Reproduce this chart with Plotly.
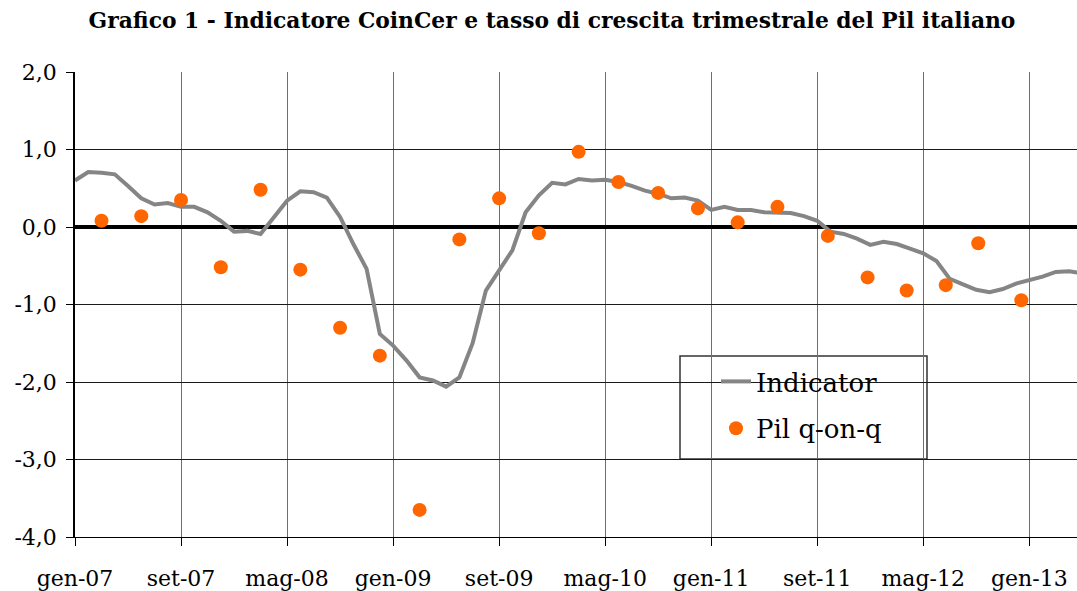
import plotly.graph_objects as go

# Monthly indicator (index 0 = gen-07)
indicator = [0.60, 0.71, 0.70, 0.68, 0.53, 0.37, 0.29, 0.31, 0.26, 0.26,
             0.19, 0.08, -0.06, -0.05, -0.09, 0.13, 0.34, 0.46, 0.45, 0.38,
             0.13, -0.22, -0.54, -1.38, -1.53, -1.72, -1.94, -1.98, -2.06, -1.94,
             -1.50, -0.82, -0.56, -0.30, 0.19, 0.41, 0.57, 0.55, 0.62, 0.60,
             0.61, 0.58, 0.53, 0.47, 0.43, 0.37, 0.38, 0.34, 0.22, 0.26,
             0.22, 0.22, 0.19, 0.19, 0.18, 0.14, 0.08, -0.06, -0.09, -0.15,
             -0.23, -0.19, -0.22, -0.28, -0.34, -0.44, -0.67, -0.74, -0.81, -0.84,
             -0.80, -0.73, -0.69, -0.64, -0.58, -0.57, -0.60]
months = list(range(len(indicator)))

# Quarterly GDP q-on-q (month index positions)
pil_x = [2, 5, 8, 11, 14, 17, 20, 23, 26, 29, 32, 35, 38, 41, 44, 47, 50, 53,
         56.8, 59.8, 62.75, 65.7, 68.15, 71.4]
pil_y = [0.08, 0.14, 0.35, -0.52, 0.48, -0.55, -1.30, -1.66, -3.65, -0.16,
         0.37, -0.08, 0.97, 0.58, 0.44, 0.24, 0.06, 0.26,
         -0.115, -0.65, -0.82, -0.75, -0.21, -0.945]

tick_vals = [0, 8, 16, 24, 32, 40, 48, 56, 64, 72]
tick_text = ["gen-07", "set-07", "mag-08", "gen-09", "set-09",
             "mag-10", "gen-11", "set-11", "mag-12", "gen-13"]
y_ticks = [2, 1, 0, -1, -2, -3, -4]
y_text = ["2,0", "1,0", "0,0", "-1,0", "-2,0", "-3,0", "-4,0"]

FONT = "DejaVu Serif"

W, H = 1077, 591
PL, PT, PB = 75, 72, 54
PW, PH = W - PL, H - PT - PB

fig = go.Figure()
fig.add_trace(go.Scatter(x=months, y=indicator, mode="lines", name="Indicator",
                         line=dict(color="#858585", width=4), legendgroup="a"))
fig.add_trace(go.Scatter(x=pil_x, y=pil_y, mode="markers", name="Pil q-on-q",
                         marker=dict(color="#FF6600", size=14, line=dict(width=0)),
                         legendgroup="b"))

fig.update_layout(
    width=W, height=H,
    margin=dict(l=PL, r=0, t=PT, b=PB, autoexpand=False),
    paper_bgcolor="white", plot_bgcolor="white",
    font=dict(family=FONT, color="black", size=22),
    title=dict(text="<b>Grafico 1 - Indicatore CoinCer e tasso di crescita trimestrale del Pil italiano</b>",
               x=552 / W, xanchor="center", y=1 - 20 / H, yanchor="middle",
               font=dict(family=FONT, size=21.8, color="black")),
    showlegend=True,
    legend=dict(x=(716 - PL) / PW, xanchor="left", y=1 - (358 - PT) / PH, yanchor="top",
                bgcolor="rgba(255,255,255,0)", borderwidth=0,
                font=dict(family=FONT, size=26, color="black"),
                traceorder="grouped", tracegroupgap=10),
    shapes=[dict(type="rect", xref="paper", yref="paper",
                 x0=(680 - PL) / PW, x1=(927 - PL) / PW,
                 y0=1 - (459 - PT) / PH, y1=1 - (356 - PT) / PH,
                 line=dict(color="#333333", width=1.5), fillcolor="white", layer="below")],
)

fig.update_xaxes(range=[0, 75.6], tickmode="array", tickvals=tick_vals, ticktext=tick_text,
                 showgrid=True, gridcolor="#6e6e6e", gridwidth=1,
                 ticks="outside", ticklen=8, tickcolor="black",
                 showline=True, linecolor="black", linewidth=1,
                 zeroline=False, ticklabelstandoff=14, automargin=False,
                 tickfont=dict(family=FONT, size=22, color="black"))
fig.update_yaxes(range=[-4, 2], tickmode="array", tickvals=y_ticks, ticktext=y_text,
                 showgrid=True, gridcolor="#1a1a1a", gridwidth=1,
                 ticks="outside", ticklen=7, tickcolor="black",
                 showline=True, linecolor="black", linewidth=1.5,
                 zeroline=True, zerolinecolor="black", zerolinewidth=4,
                 ticklabelstandoff=5, automargin=False,
                 tickfont=dict(family=FONT, size=22, color="black"))

fig.write_html("out.html", config={"displayModeBar": False},
               post_script="document.body.style.margin='0';document.body.style.overflow='hidden';")
